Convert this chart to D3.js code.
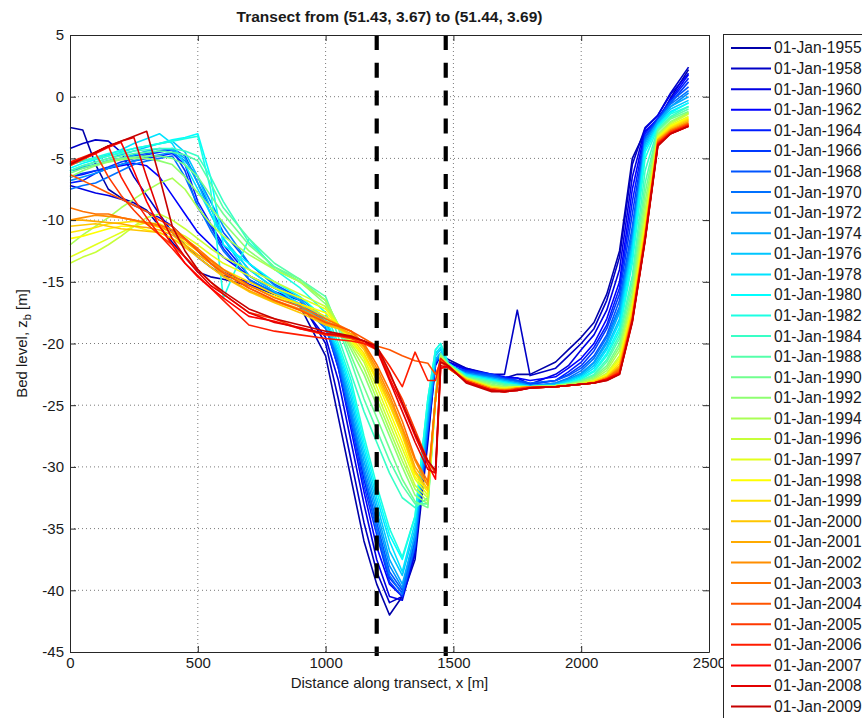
<!DOCTYPE html>
<html>
<head>
<meta charset="utf-8">
<script src="https://cdn.jsdelivr.net/npm/d3@7"></script>
<style>
body{margin:0;background:#fff;}
text{font-family:"Liberation Sans",Arial,Helvetica,sans-serif;fill:#1a1a1a;}
</style>
</head>
<body>
<div id="chart"></div>
<script>
// distance along transect [m], shared by every survey
var distance = [0,50,100,150,200,250,300,350,400,450,500,550,600,700,800,900,1000,
    1050,1100,1150,1200,1250,1300,1350,1400,1430,1450,1480,
    1550,1650,1700,1750,1800,1900,1950,2000,2050,2100,2150,2200,2250,2300,2350,2420]

var years = [1955,1958,1960,1962,1964,1966,1968,1970,1972,1974,1976,1978,1980,1982,1984,
    1988,1990,1992,1994,1996,1997,1998,1999,2000,2001,2002,2003,2004,2005,2006,2007,2008,2009]

// bed level [m] per survey
var z1955 = [-2.5,-2.7,-5.5,-7.5,-8.2,-8.6,-9.2,-10.5,-11.8,-13,-14.2,-14.6,-14.8,-15.3,-16,-17,-21,
    -26,-31,-36,-39.5,-42,-40.5,-37.5,-28,-21.5,-20.8,-21.3,
    -22.0,-22.6,-22.8,-22.5,-22.5,-21.5,-20.5,-19.5,-18.3,-16,-12.5,-5,-2.8,-2,-0.1,2.2]
var z1958 = [-4.2,-3.8,-3.5,-3.6,-4.5,-6.5,-8,-9.5,-11,-12,-13,-13.8,-14.5,-15,-15.8,-16.5,-20,
    -24.5,-29.5,-34.5,-38.5,-41,-40.5,-37,-27,-21.5,-20.8,-21.5,
    -22.0,-22.5,-22.5,-17.3,-22.6,-22,-21,-20,-18.8,-16.5,-13,-5.5,-2.5,-1.5,0.3,2.4]
var z1960 = [-7.2,-7.5,-7.8,-8,-8.3,-8.8,-9.3,-9.8,-10.5,-11.5,-12.5,-13.5,-14.2,-15.2,-16,-16.8,-19.5,
    -23,-28,-33,-37.5,-40.5,-40.8,-37,-27.5,-21.8,-21,-21.5,
    -22.1,-22.7,-22.8,-22.8,-23.3,-22.5,-21.8,-20.5,-19.3,-17.3,-14,-6.5,-2.6,-1.5,0.2,1.9]
var z1962 = [-6.5,-6.3,-6,-5.8,-5.6,-5.4,-5.6,-6.5,-8,-9.5,-11,-12,-13,-14.5,-15.5,-16.5,-18.5,
    -22,-27,-32,-36.5,-39.5,-40.5,-36.5,-27,-21.5,-21,-21.6,
    -22.1,-22.5,-22.7,-22.8,-23,-22.7,-22,-21.2,-20,-18,-15,-7.5,-2.8,-1.8,-0.2,1.8]
var z1964 = [-7,-6.8,-6.2,-5.8,-5.5,-5.2,-5,-4.8,-4.6,-5.5,-8.5,-10.3,-12,-14.5,-15.8,-16.8,-18.3,
    -21.5,-26,-31,-35,-39,-40.2,-36,-26.5,-21.5,-21,-21.8,
    -22.2,-22.6,-22.8,-23,-23.3,-23,-22.3,-21.5,-20.3,-18.5,-15.5,-8.5,-3,-1.7,-0.3,1.5]
var z1966 = [-6.5,-6.2,-6,-5.7,-5.3,-5,-4.7,-4.5,-4.3,-6,-9,-10.5,-12.3,-14.8,-16,-17,-18.6,
    -22,-26.5,-31.5,-35.5,-39.3,-40.5,-36.5,-27,-21.5,-21,-21.8,
    -22.2,-22.5,-22.8,-23,-23.3,-23,-22.5,-21.8,-20.6,-18.8,-16,-9.5,-3.2,-1.8,-0.5,1.2]
var z1968 = [-6,-5.8,-5.5,-5.2,-5,-4.8,-4.6,-4.4,-4.2,-4.8,-7,-9,-11,-13.5,-15.2,-16.3,-18,
    -21,-25.5,-30.5,-34.5,-38.5,-40,-36,-26.5,-21.3,-20.8,-21.7,
    -22.3,-22.6,-22.9,-23,-23.2,-23,-22.6,-22,-21,-19.3,-16.5,-10.5,-3.3,-1.9,-0.4,0.8]
var z1970 = [-7.5,-7.2,-7,-6.5,-6,-5.5,-5.2,-5,-4.8,-6.5,-8.8,-10.8,-12.5,-14.8,-15.9,-16.8,-18.8,
    -21.5,-26,-30.5,-35,-38.8,-40.3,-36.3,-26.8,-21.5,-21,-21.9,
    -22.4,-22.7,-22.9,-23.1,-23.4,-23.2,-22.8,-22.2,-21.2,-19.5,-17,-11,-3.5,-2,-0.6,0.5]
var z1972 = [-6.8,-6.5,-6.2,-5.8,-5.5,-5.2,-4.9,-4.7,-4.5,-5.2,-6.5,-8.5,-10.5,-13.5,-15.3,-16.5,-18.5,
    -21.2,-25.5,-30,-34,-38,-39.8,-35.5,-26,-21.3,-20.8,-21.8,
    -22.4,-22.8,-23,-23.2,-23.5,-23.2,-22.9,-22.4,-21.5,-19.8,-17.2,-11.5,-3.6,-2.1,-0.8,0.3]
var z1974 = [-6,-5.7,-5.5,-5.2,-5,-4.7,-4.4,-4.2,-4.3,-5,-7,-9.5,-11.5,-14,-15.5,-16.5,-18.2,
    -21,-25,-29.5,-33.5,-37.5,-39.5,-35.5,-26,-21.3,-20.8,-21.8,
    -22.5,-22.8,-23,-23.2,-23.4,-23.3,-23,-22.5,-21.6,-20,-17.5,-12,-3.8,-2,-0.8,0]
var z1976 = [-6,-5.6,-5.3,-5,-4.7,-4.4,-4.1,-3.8,-3.6,-4.5,-6.5,-9,-11.5,-14.5,-15.8,-17,-18.5,
    -20.8,-24.5,-29,-33,-36.8,-38.8,-35,-25.5,-21,-20.5,-21.8,
    -22.6,-22.9,-23.1,-23.3,-23.5,-23.3,-23,-22.6,-21.8,-20.3,-18,-12,-4,-2.2,-1,-0.3]
var z1978 = [-5.5,-5.2,-5,-4.7,-4.3,-3.8,-3.4,-3,-3.8,-5.5,-7.5,-9.5,-11.5,-14,-15.5,-16.8,-18.5,
    -20.5,-24,-28.5,-32.5,-36,-38.5,-34.5,-25,-20.8,-20.3,-21.7,
    -22.5,-22.9,-23.1,-23.3,-23.5,-23.4,-23.1,-22.7,-22,-20.5,-18.3,-12.5,-4.2,-2.3,-1.2,-0.5]
var z1980 = [-5.8,-5.4,-5.1,-4.8,-4.5,-4.2,-4,-3.8,-3.5,-3.3,-3,-6.5,-12,-13.5,-15,-16.2,-18,
    -20.3,-23.5,-28,-32,-35.5,-37.5,-34,-24.5,-20.5,-20,-21.6,
    -22.6,-23,-23.2,-23.4,-23.5,-23.4,-23.2,-22.8,-22.2,-20.8,-18.7,-13,-4.5,-2.4,-1.3,-0.5]
var z1982 = [-5.5,-5.2,-4.9,-4.6,-4.4,-4.2,-4,-3.8,-3.6,-3.4,-3.2,-7.5,-16.3,-11.5,-14,-15.5,-17.5,
    -20,-23,-27.5,-31.5,-35,-37.3,-34,-24.5,-20.5,-20,-21.6,
    -22.6,-23,-23.2,-23.4,-23.5,-23.4,-23.2,-22.9,-22.3,-21,-19,-13.5,-5,-2.5,-1.4,-0.8]
var z1984 = [-5.5,-5.2,-5,-4.8,-4.6,-4.4,-4.3,-4.2,-4.2,-4.4,-4.8,-6.5,-8.5,-11.8,-13.8,-15,-16.5,
    -19.5,-22.5,-25.5,-28,-30.5,-32.5,-33.3,-32.5,-24,-20.8,-21.7,
    -22.7,-23.1,-23.3,-23.4,-23.5,-23.4,-23.2,-23,-22.5,-21.3,-19.3,-14.5,-6,-2.6,-1.6,-0.8]
var z1988 = [-6,-5.6,-5.3,-5,-4.8,-4.6,-4.5,-4.4,-4.5,-4.7,-5.2,-7,-9,-11.5,-13.5,-14.8,-16.2,
    -18.8,-21.5,-24.5,-27,-29.5,-31.5,-33,-33,-24.5,-20.8,-21.7,
    -22.7,-23.1,-23.3,-23.4,-23.5,-23.4,-23.3,-23,-22.6,-21.5,-19.6,-15,-7,-2.7,-1.7,-1]
var z1990 = [-6.2,-5.8,-5.5,-5.2,-5,-4.9,-4.8,-4.8,-5,-5.5,-6.5,-8,-9.5,-12,-13.8,-14.8,-16.5,
    -18.5,-21,-23.5,-26,-28.5,-31,-32.8,-33.3,-24.5,-21,-21.7,
    -22.8,-23.2,-23.4,-23.5,-23.5,-23.4,-23.3,-23.1,-22.7,-21.8,-20,-15.5,-7.8,-2.8,-1.8,-1.2]
var z1992 = [-6.5,-6,-5.6,-5.3,-5.1,-5,-5,-5.2,-5.5,-6.5,-7.8,-9,-10.2,-12.5,-14,-15,-16.8,
    -18.5,-20.5,-22.5,-25,-27.5,-30,-32.3,-33,-24.5,-21,-21.7,
    -22.8,-23.3,-23.5,-23.5,-23.5,-23.4,-23.3,-23.1,-22.8,-22,-20.3,-16,-8.5,-3,-2,-1.3]
var z1994 = [-12,-11.2,-10.5,-9.8,-9,-8.3,-7.6,-7,-6.6,-7.5,-9,-10.3,-11.3,-12.8,-14,-15,-16.5,
    -18.5,-20.2,-22,-24.5,-27,-29.5,-31.8,-32.8,-24.5,-21,-21.7,
    -22.8,-23.4,-23.5,-23.5,-23.5,-23.4,-23.3,-23.2,-22.9,-22.2,-20.6,-16.3,-9.2,-3.1,-2.1,-1.3]
var z1996 = [-13.5,-13,-12.6,-12,-11.3,-10.5,-9.8,-9.5,-10,-10.7,-11.5,-12.3,-13,-14,-15,-16,-17,
    -18.5,-20,-21.5,-24,-26.5,-29,-31.5,-32.5,-24.5,-21.2,-21.8,
    -22.8,-23.5,-23.6,-23.5,-23.5,-23.5,-23.4,-23.2,-23,-22.4,-21,-16.7,-9.8,-3.2,-2.2,-1.4]
var z1997 = [-13,-12.5,-12,-11.5,-11,-10.5,-10.2,-10.3,-10.8,-11.3,-12,-12.8,-13.5,-14.5,-15.5,-16.3,-17.2,
    -18.5,-19.8,-21.2,-23.5,-26,-28.5,-31,-32.3,-24.5,-21.2,-21.8,
    -22.9,-23.5,-23.6,-23.5,-23.5,-23.5,-23.4,-23.3,-23,-22.5,-21.2,-17,-10.2,-3.3,-2.3,-1.6]
var z1998 = [-11.5,-11.3,-11,-10.7,-10.5,-10.5,-10.8,-11,-11.5,-12,-12.8,-13.5,-14.3,-15.3,-16.2,-16.8,-17.5,
    -18.5,-19.7,-21,-23,-25.5,-28,-30.8,-32,-24.5,-21.3,-21.9,
    -22.9,-23.6,-23.7,-23.6,-23.5,-23.5,-23.4,-23.3,-23.1,-22.6,-21.4,-17.2,-10.5,-3.4,-2.4,-1.7]
var z1999 = [-11,-10.8,-10.6,-10.3,-10.2,-10.1,-10.3,-10.6,-11,-11.8,-12.5,-13.2,-14,-15,-16,-16.8,-17.8,
    -18.5,-19.5,-20.8,-22.8,-25,-27.5,-30.5,-32,-24.5,-21.3,-21.9,
    -22.9,-23.6,-23.7,-23.6,-23.5,-23.5,-23.4,-23.3,-23.1,-22.7,-21.6,-17.4,-10.8,-3.4,-2.5,-1.8]
var z2000 = [-10.5,-10.4,-10.3,-10.5,-10.7,-10.8,-10.9,-11,-11.5,-12.2,-13,-13.8,-14.6,-15.8,-16.7,-17.5,-18.5,
    -18.8,-19.3,-20.5,-22.5,-24.8,-27.3,-30.3,-31.8,-24.5,-21.3,-22,
    -22.9,-23.6,-23.7,-23.6,-23.5,-23.5,-23.4,-23.3,-23.1,-22.7,-21.8,-17.6,-11,-3.5,-2.6,-1.9]
var z2001 = [-10,-10,-10.1,-10.2,-10.3,-10.5,-10.6,-10.8,-11.2,-12,-12.8,-13.5,-14.5,-15.7,-16.6,-17.3,-18.4,
    -18.7,-19.2,-20.3,-22.3,-24.5,-27,-30,-31.5,-24.5,-21.3,-22,
    -23,-23.7,-23.8,-23.6,-23.5,-23.5,-23.4,-23.3,-23.2,-22.8,-21.9,-17.8,-11.1,-3.5,-2.7,-2]
var z2002 = [-10,-9.8,-9.6,-9.7,-9.8,-10,-10.3,-10.5,-11,-11.6,-12.5,-13.3,-14.2,-15.5,-16.5,-17.2,-18.2,
    -18.6,-19,-20.2,-22,-24.2,-26.8,-29.5,-31.5,-24.5,-21.3,-22,
    -23,-23.7,-23.8,-23.6,-23.5,-23.5,-23.4,-23.3,-23.2,-22.8,-22,-17.9,-11.2,-3.6,-2.7,-2.1]
var z2003 = [-9,-9.3,-9.5,-9.5,-9.8,-10,-10.2,-10.4,-10.8,-11.5,-12.3,-13.2,-14,-15.3,-16.3,-17,-18,
    -18.5,-19,-20,-21.7,-23.8,-26.3,-29.3,-31.2,-24.5,-21.3,-22,
    -23,-23.7,-23.8,-23.7,-23.5,-23.5,-23.4,-23.3,-23.2,-22.8,-22.1,-18,-11.3,-3.7,-2.8,-2.2]
var z2004 = [-6.3,-6.8,-7.3,-7.8,-8.3,-8.8,-9.3,-10,-10.5,-11.5,-12.5,-13.5,-14.3,-15.5,-16.5,-17.3,-18.3,
    -18.6,-19,-19.6,-20.2,-20.5,-21,-21.4,-21.6,-22.5,-21.5,-22,
    -23,-23.7,-23.8,-23.7,-23.6,-23.5,-23.4,-23.3,-23.2,-22.9,-22.2,-18,-11.4,-3.7,-2.8,-2.2]
var z2005 = [-5.6,-5.1,-4.6,-6.5,-8,-9.2,-10.3,-11.2,-12,-13,-14,-15,-16,-17.5,-18,-18.8,-19.3,
    -19.4,-19.6,-20,-20.5,-22.5,-24.5,-27,-29.5,-30.5,-22,-21.8,
    -23.1,-23.8,-23.9,-23.7,-23.6,-23.5,-23.4,-23.3,-23.2,-22.9,-22.3,-18.1,-11.5,-3.8,-2.9,-2.3]
var z2006 = [-5.3,-4.9,-4.5,-4.0,-6.5,-8.3,-9.8,-11.2,-12.3,-13.5,-14.5,-15.5,-16.5,-18.5,-19,-19.3,-19.6,
    -19.7,-19.8,-20,-20.3,-21.8,-23.5,-20.7,-23,-23,-21.2,-21.8,
    -23.1,-23.8,-23.9,-23.7,-23.6,-23.5,-23.4,-23.3,-23.2,-22.9,-22.4,-18.1,-11.5,-3.8,-2.9,-2.3]
var z2007 = [-5.4,-5,-4.6,-4.1,-3.7,-6,-8.5,-10.5,-12,-13.5,-14.6,-15.5,-16.3,-17.8,-18.2,-18.8,-19.2,
    -19.3,-19.5,-19.8,-20.3,-22.8,-25,-27.5,-29.8,-31,-22,-21.9,
    -23.1,-23.8,-23.9,-23.8,-23.6,-23.5,-23.4,-23.3,-23.2,-22.9,-22.4,-18.2,-11.6,-3.9,-3,-2.4]
var z2008 = [-5.5,-5,-4.5,-4,-3.6,-3.3,-6.5,-9.5,-11.5,-13,-14.2,-15.3,-16,-17.5,-18.3,-18.7,-19.2,
    -19.3,-19.5,-19.8,-20.5,-23,-25.5,-28,-30.2,-30.5,-21.8,-21.9,
    -23.1,-23.8,-23.9,-23.8,-23.6,-23.5,-23.4,-23.3,-23.2,-23,-22.5,-18.2,-11.6,-3.9,-3,-2.4]
var z2009 = [-5.5,-5,-4.5,-4,-3.6,-3.2,-2.8,-6.5,-10.5,-12.5,-14,-15,-15.8,-17.2,-18,-18.5,-19,
    -19.2,-19.4,-19.8,-20.2,-22.3,-24.8,-27.3,-29.5,-30.3,-21.5,-21.8,
    -23.2,-23.9,-23.9,-23.8,-23.6,-23.5,-23.4,-23.3,-23.2,-23,-22.5,-18.3,-11.7,-4,-3,-2.4]

var levels = [z1955,z1958,z1960,z1962,z1964,z1966,z1968,z1970,z1972,z1974,z1976,z1978,z1980,z1982,z1984,
    z1988,z1990,z1992,z1994,z1996,z1997,z1998,z1999,z2000,z2001,z2002,z2003,z2004,z2005,z2006,z2007,z2008,z2009]

var xTicks = [0,500,1000,1500,2000,2500]
var yTicks = [5,0,-5,-10,-15,-20,-25,-30,-35,-40,-45]
var markers = [1200,1470]

// matlab jet(m)
function jet(m){
    var n = Math.ceil(m/4)
    var u = []
    for(var i=1; i<=n; i++){ u.push(i/n) }
    for(var i=0; i<n-1; i++){ u.push(1) }
    for(var i=n; i>=1; i--){ u.push(i/n) }
    var g0 = Math.ceil(n/2) - (m%4==1 ? 1 : 0)
    var cols = []
    for(var k=0; k<m; k++){ cols.push([0,0,0]) }
    for(var i=0; i<u.length; i++){
        var g = g0+i+1, r = g+n, b = g-n
        if(r>=1 && r<=m) cols[r-1][0] = u[i]
        if(g>=1 && g<=m) cols[g-1][1] = u[i]
        if(b>=1 && b<=m) cols[b-1][2] = u[i]
    }
    return cols.map(function(c){ return d3.rgb(c[0]*255, c[1]*255, c[2]*255).toString() })
}

var colors = jet(years.length)
var axisColor = '#262626'

var svg = d3.select('#chart').append('svg')
    .attr('width', 862)
    .attr('height', 718)

var x = d3.scaleLinear().domain([0,2500]).range([70,709])
var y = d3.scaleLinear().domain([-45,5]).range([652,35])

// dotted grid
svg.append('g').selectAll('line.gx')
    .data(xTicks.slice(1,-1))
    .enter().append('line')
    .attr('x1', function(d){return x(d)}).attr('x2', function(d){return x(d)})
    .attr('y1', y(5)).attr('y2', y(-45))
    .attr('stroke', '#7a7a7a').attr('stroke-width', 1).attr('stroke-dasharray', '1,3')
svg.append('g').selectAll('line.gy')
    .data(yTicks.slice(1,-1))
    .enter().append('line')
    .attr('y1', function(d){return y(d)}).attr('y2', function(d){return y(d)})
    .attr('x1', x(0)).attr('x2', x(2500))
    .attr('stroke', '#7a7a7a').attr('stroke-width', 1).attr('stroke-dasharray', '1,3')

var line = d3.line()
    .x(function(d,i){return x(distance[i])})
    .y(function(d){return y(d)})

svg.append('g').selectAll('path')
    .data(levels)
    .enter().append('path')
    .attr('d', line)
    .attr('fill', 'none')
    .attr('stroke', function(d,i){return colors[i]})
    .attr('stroke-width', 1.6)
    .attr('stroke-linejoin', 'round')

svg.append('g').selectAll('line')
    .data(markers)
    .enter().append('line')
    .attr('x1', function(d){return x(d)}).attr('x2', function(d){return x(d)})
    .attr('y1', y(5)).attr('y2', y(-45)+4)
    .attr('stroke', '#000').attr('stroke-width', 4.2).attr('stroke-dasharray', '15,12.8')

function fmt(d){ return String(d) }

var gb = svg.append('g').attr('transform', 'translate(0,'+y(-45)+')')
    .call(d3.axisBottom(x).tickValues(xTicks).tickSize(-6).tickSizeOuter(0).tickPadding(5).tickFormat(fmt))
var gl = svg.append('g').attr('transform', 'translate('+x(0)+',0)')
    .call(d3.axisLeft(y).tickValues(yTicks).tickSize(-6).tickSizeOuter(0).tickPadding(6).tickFormat(fmt))
var gt = svg.append('g').attr('transform', 'translate(0,'+y(5)+')')
    .call(d3.axisTop(x).tickValues(xTicks).tickSize(-6).tickSizeOuter(0).tickFormat(''))
var gr = svg.append('g').attr('transform', 'translate('+x(2500)+',0)')
    .call(d3.axisRight(y).tickValues(yTicks).tickSize(-6).tickSizeOuter(0).tickFormat(''))

svg.selectAll('.domain, .tick line').attr('stroke', axisColor)
svg.selectAll('.tick text').attr('fill', '#1a1a1a').style('font-size', '15px')
    .style('font-family', '"Liberation Sans",Arial,sans-serif')

svg.append('text')
    .attr('x', 389.5).attr('y', 22)
    .attr('text-anchor', 'middle')
    .style('font-size', '15.5px').style('font-weight', 'bold')
    .text('Transect from (51.43, 3.67) to (51.44, 3.69)')

svg.append('text')
    .attr('x', 389.5).attr('y', 688)
    .attr('text-anchor', 'middle')
    .style('font-size', '15px')
    .text('Distance along transect,  x [m]')

var yl = svg.append('text')
    .attr('transform', 'translate(27,'+((y(5)+y(-45))/2)+') rotate(-90)')
    .attr('text-anchor', 'middle')
    .style('font-size', '15px')
yl.append('tspan').text('Bed level,  z')
yl.append('tspan').attr('dy', 4).style('font-size', '11px').text('b')
yl.append('tspan').attr('dy', -4).text(' [m]')

// legend
var leg = svg.append('g')
leg.append('rect')
    .attr('x', 723.5).attr('y', 34.5).attr('width', 200).attr('height', 720)
    .attr('fill', '#fff').attr('stroke', axisColor)

var items = leg.selectAll('g.item')
    .data(years)
    .enter().append('g')
    .attr('transform', function(d,i){return 'translate(0,'+(48 + i*20.58)+')'})
items.append('line')
    .attr('x1', 731).attr('x2', 771).attr('y1', 0).attr('y2', 0)
    .attr('stroke', function(d,i){return colors[i]}).attr('stroke-width', 2)
items.append('text')
    .attr('x', 774).attr('y', 0).attr('dy', '0.35em')
    .style('font-size', '15.6px')
    .text(function(d){return '01-Jan-'+d})
</script>
</body>
</html>
